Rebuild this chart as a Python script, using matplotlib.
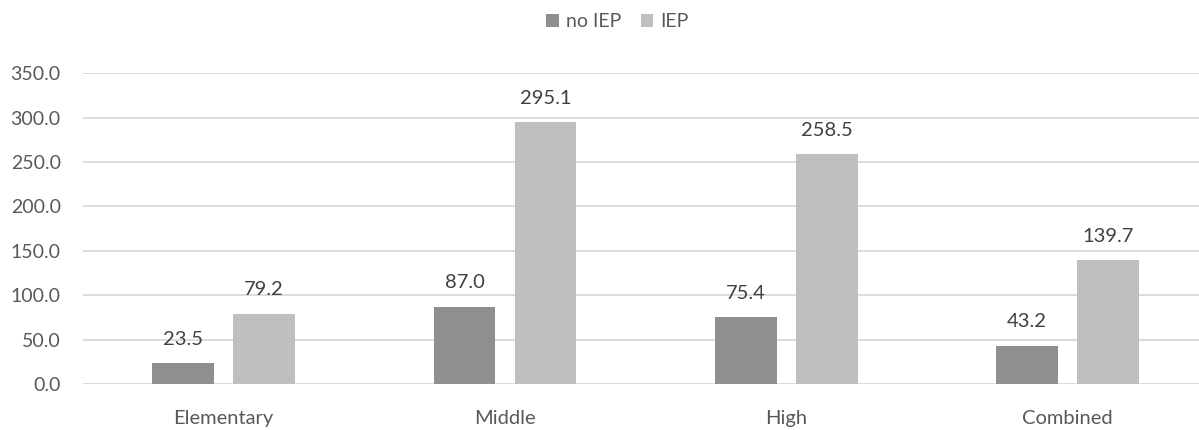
import matplotlib
matplotlib.use("Agg")
import matplotlib.pyplot as plt
import numpy as np

categories = ["Elementary", "Middle", "High", "Combined"]
no_iep = [23.5, 87.0, 75.4, 43.2]
iep = [79.2, 295.1, 258.5, 139.7]
series_names = ["no IEP", "IEP"]

plt.rcParams["font.family"] = ["Lato", "DejaVu Sans"]
text_color = "#595959"
dark = "#8F8F8F"
light = "#BFBFBF"
fs = 14.5

fig = plt.figure(figsize=(11.99, 4.30), dpi=100)
ax = fig.add_axes([0.0692, 0.107, 0.9308, 0.723])

x = np.arange(len(categories))
w = 0.22
off = 0.144
b1 = ax.bar(x - off, no_iep, w, color=dark, label=series_names[0], zorder=3)
b2 = ax.bar(x + off, iep, w, color=light, label=series_names[1], zorder=3)

for bars, vals in ((b1, no_iep), (b2, iep)):
    for rect, v in zip(bars, vals):
        ax.annotate(f"{v:.1f}", (rect.get_x() + rect.get_width() / 2, v),
                    xytext=(0, 11), textcoords="offset points",
                    ha="center", va="bottom", fontsize=fs, color="#404040")

ax.set_xlim(-0.5, 3.467)
ax.set_ylim(0, 350)
ax.set_yticks(np.arange(0, 351, 50))
ax.set_yticklabels([f"{t:.1f}" for t in np.arange(0, 351, 50)])
ax.set_xticks(x)
ax.set_xticklabels(categories)
ax.tick_params(axis="y", length=0, pad=16, labelsize=14, labelcolor=text_color)
ax.tick_params(axis="x", length=0, pad=19, labelsize=fs, labelcolor=text_color)
ax.grid(axis="y", color="#D9D9D9", linewidth=1.3, zorder=0)
for s in ax.spines.values():
    s.set_visible(False)

fig.legend(loc="upper center", bbox_to_anchor=(0.515, 1.01), ncol=2, frameon=False,
           fontsize=14, labelcolor=text_color, handlelength=0.65, handleheight=0.65,
           handletextpad=0.35, columnspacing=1.0)

fig.savefig("out.png", dpi=100)
